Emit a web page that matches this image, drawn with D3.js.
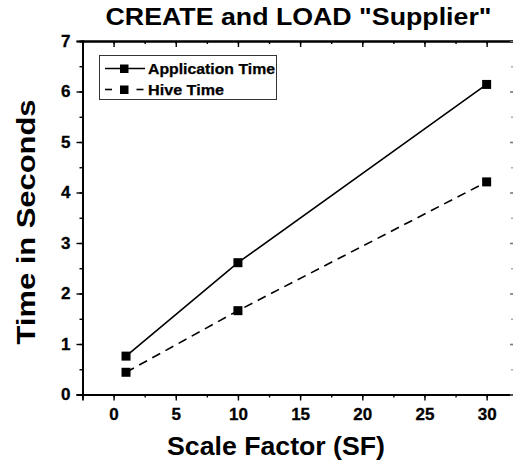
<!DOCTYPE html>
<html><head><meta charset="utf-8">
<script src="https://cdn.jsdelivr.net/npm/d3@7/dist/d3.min.js"></script>
<style>
html,body{margin:0;padding:0;background:#fff;}
svg{display:block;}
text{font-family:"Liberation Sans",Arial,sans-serif;font-weight:bold;fill:#000;}
</style></head>
<body>
<script>
const scaleFactors = [1, 10, 30];
const applicationTime = [0.76, 2.61, 6.14];
const hiveTime = [0.44, 1.66, 4.21];
const seriesNames = ["Application Time", "Hive Time"];
const xTicks = [0, 5, 10, 15, 20, 25, 30];
const yTicks = [0, 1, 2, 3, 4, 5, 6, 7];
const titleText = 'CREATE and LOAD "Supplier"';
const xTitle = "Scale Factor (SF)";
const yTitle = "Time in Seconds";

const W = 513, H = 465;
const m = {left: 82.5, right: 514, top: 41, bottom: 394.5};
const FONT = "'Liberation Sans',Arial,sans-serif";

const svg = d3.select("body").append("svg").attr("width", W).attr("height", H);

const x = d3.scaleLinear().domain([-2.5, 32.2]).range([m.left, m.right]);
const y = d3.scaleLinear().domain([0, 7]).range([m.bottom, m.top]);

const xMinor = d3.range(-2.5, 32.1, 2.5);
const yMinor = d3.range(0, 7.01, 0.5);

function axisStyle(g){
  g.select(".domain").attr("stroke", "#000").attr("stroke-width", 1.8);
  g.selectAll(".tick line").attr("stroke", "#000").attr("stroke-width", 1.4);
}
function labelStyle(g){
  g.selectAll("text").attr("font-size", 17).style("font-family", FONT).style("font-weight", "bold")
    .attr("fill", "#000").attr("stroke", "#000").attr("stroke-width", 0.3);
}

// bottom axis: outward ticks
const gx = svg.append("g").attr("transform", `translate(0,${m.bottom})`)
  .call(d3.axisBottom(x).tickValues(xMinor).tickSize(3).tickFormat(""));
axisStyle(gx);
const gx2 = svg.append("g").attr("transform", `translate(0,${m.bottom})`)
  .call(d3.axisBottom(x).tickValues(xTicks).tickSize(6).tickPadding(7).tickFormat(d3.format("d")));
axisStyle(gx2); labelStyle(gx2);

// top axis: inward ticks
const gt = svg.append("g").attr("transform", `translate(0,${m.top})`)
  .call(d3.axisBottom(x).tickValues(xMinor).tickSize(3).tickFormat(""));
axisStyle(gt);
const gt2 = svg.append("g").attr("transform", `translate(0,${m.top})`)
  .call(d3.axisBottom(x).tickValues(xTicks).tickSize(6).tickFormat(""));
axisStyle(gt2);

// left axis: outward ticks
const gy = svg.append("g").attr("transform", `translate(${m.left},0)`)
  .call(d3.axisLeft(y).tickValues(yMinor).tickSize(3).tickFormat(""));
axisStyle(gy);
const gy2 = svg.append("g").attr("transform", `translate(${m.left},0)`)
  .call(d3.axisLeft(y).tickValues(yTicks).tickSize(6).tickPadding(6).tickFormat(d3.format("d")));
axisStyle(gy2); labelStyle(gy2);

// right axis: inward ticks (mostly beyond the picture edge)
const gr = svg.append("g").attr("transform", `translate(${m.right},0)`)
  .call(d3.axisLeft(y).tickValues(yMinor).tickSize(3).tickFormat(""));
axisStyle(gr);
gr.selectAll(".tick line").attr("stroke", "#aaa");
const gr2 = svg.append("g").attr("transform", `translate(${m.right},0)`)
  .call(d3.axisLeft(y).tickValues(yTicks).tickSize(4).tickFormat(""));
axisStyle(gr2);
gr2.selectAll(".tick line").attr("stroke", "#777");

// series
const series = [
  {name: seriesNames[0], vals: applicationTime, dash: null, tl: 127},
  {name: seriesNames[1], vals: hiveTime, dash: "9,6", tl: 76}
];
const line = d3.line().x(d => x(d[0])).y(d => y(d[1]));
series.forEach(s => {
  const pts = scaleFactors.map((sf, i) => [sf, s.vals[i]]);
  svg.append("path").datum(pts).attr("d", line)
    .attr("fill", "none").attr("stroke", "#000").attr("stroke-width", 1.6)
    .attr("stroke-dasharray", s.dash);
  svg.selectAll(null).data(pts).enter().append("rect")
    .attr("x", d => x(d[0]) - 4.5).attr("y", d => y(d[1]) - 4.5)
    .attr("width", 9).attr("height", 9).attr("fill", "#000");
});

// legend
svg.append("rect").attr("x", 99.5).attr("y", 55.5).attr("width", 177).attr("height", 44)
  .attr("fill", "#fff").attr("stroke", "#333").attr("stroke-width", 1);
series.forEach((s, i) => {
  const ly = 68.5 + i * 21;
  if (s.dash) {
    svg.append("line").attr("x1", 105).attr("x2", 112).attr("y1", ly).attr("y2", ly)
      .attr("stroke", "#000").attr("stroke-width", 1.6);
    svg.append("line").attr("x1", 136.5).attr("x2", 143.5).attr("y1", ly).attr("y2", ly)
      .attr("stroke", "#000").attr("stroke-width", 1.6);
  } else {
    svg.append("line").attr("x1", 105).attr("x2", 145).attr("y1", ly).attr("y2", ly)
      .attr("stroke", "#000").attr("stroke-width", 1.6);
  }
  svg.append("rect").attr("x", 120).attr("y", ly - 4).attr("width", 8.5).attr("height", 8.5).attr("fill", "#000");
  svg.append("text").attr("x", 148).attr("y", ly + 5.5).attr("font-size", 14.5)
    .attr("stroke", "#000").attr("stroke-width", 0.25)
    .attr("textLength", s.tl).attr("lengthAdjust", "spacingAndGlyphs").text(s.name);
});

// titles
svg.append("text").attr("x", 298.5).attr("y", 25).attr("text-anchor", "middle")
  .attr("font-size", 24).attr("textLength", 386).attr("lengthAdjust", "spacingAndGlyphs").text(titleText);
svg.append("text").attr("x", 276).attr("y", 455).attr("text-anchor", "middle")
  .attr("font-size", 25).attr("textLength", 218).attr("lengthAdjust", "spacingAndGlyphs").text(xTitle);
svg.append("text").attr("transform", "translate(35,222) rotate(-90)").attr("text-anchor", "middle")
  .attr("font-size", 25).attr("textLength", 245).attr("lengthAdjust", "spacingAndGlyphs").text(yTitle);
</script>
</body></html>
